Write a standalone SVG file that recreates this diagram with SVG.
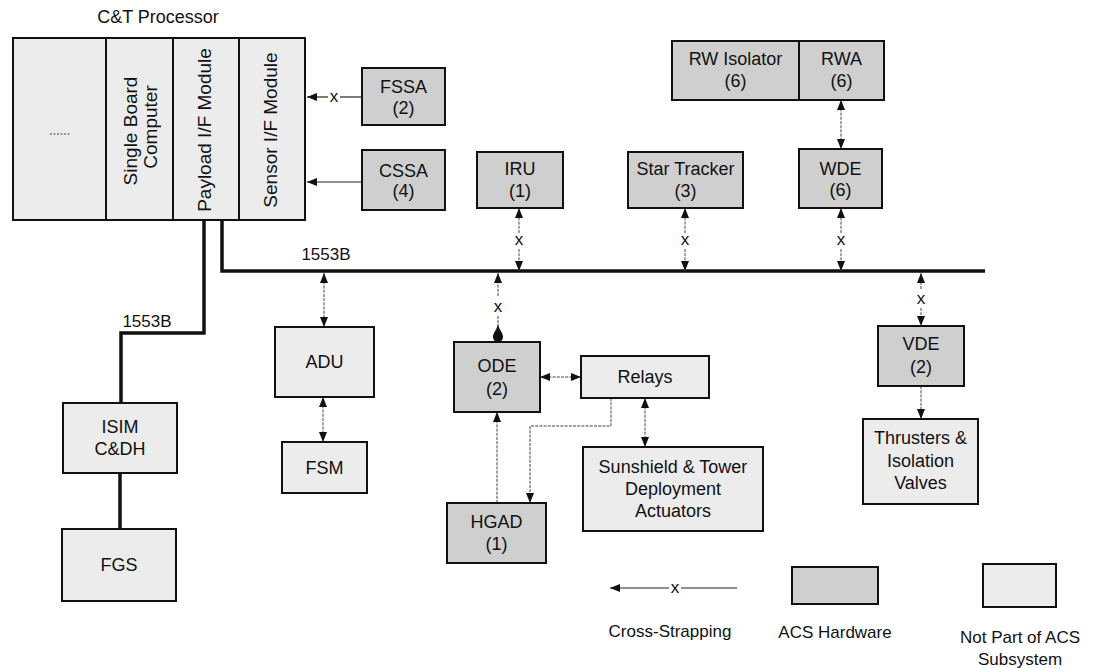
<svg xmlns="http://www.w3.org/2000/svg" width="1093" height="668" viewBox="0 0 1093 668">
<style>
text{font-family:"Liberation Sans",Arial,sans-serif;font-size:18px;fill:#111;text-anchor:middle}
.acs{fill:#cfcfcf;stroke:#111;stroke-width:2}
.ext{fill:#ececec;stroke:#111;stroke-width:2}
.bus{fill:none;stroke:#111;stroke-width:3.5}
.c{fill:none;stroke:#444;stroke-width:1;stroke-dasharray:3 1.2}
.cs{fill:none;stroke:#222;stroke-width:1.2}
.lbl{font-size:17px}
.x{font-size:17px}
.v{font-size:19px}
</style>
<defs>
<marker id="ah" viewBox="0 0 10 8" refX="10" refY="4" markerWidth="10" markerHeight="8" markerUnits="userSpaceOnUse" orient="auto-start-reverse">
<path d="M0,0 L10,4 L0,8 z" fill="#111"/>
</marker>
<marker id="blob" viewBox="0 0 18 10" refX="18" refY="5" markerWidth="18" markerHeight="10" markerUnits="userSpaceOnUse" orient="auto">
<path d="M0,5 C6,4 8,0 13,0 C16,0 18,2.5 18,5 C18,7.5 16,10 13,10 C8,10 6,6 0,5 z" fill="#111"/>
</marker>
</defs>
<rect width="1093" height="668" fill="#fff"/>

<g id="connectors">
<path class="bus" d="M222,220 V271 H985"/>
<path class="bus" d="M204,220 V333 H121 V403"/>
<path class="bus" d="M120,473 V529"/>
<text class="lbl" x="326" y="260">1553B</text>
<text class="lbl" x="147" y="327">1553B</text>
<!-- FSSA -->
<path class="cs" d="M362,97 H340"/>
<text class="x" x="334" y="102">x</text>
<path class="cs" d="M328,97 H307" marker-end="url(#ah)"/>
<!-- CSSA -->
<path class="cs" d="M362,182 H307" marker-end="url(#ah)"/>
<!-- IRU -->
<path class="c" d="M519,233 V208" marker-end="url(#ah)"/>
<text class="x" x="519" y="245">x</text>
<path class="c" d="M519,249 V271" marker-end="url(#ah)"/>
<!-- Star Tracker -->
<path class="c" d="M685,233 V208" marker-end="url(#ah)"/>
<text class="x" x="685" y="245">x</text>
<path class="c" d="M685,249 V271" marker-end="url(#ah)"/>
<!-- WDE -->
<path class="c" d="M841,233 V208" marker-end="url(#ah)"/>
<text class="x" x="841" y="245">x</text>
<path class="c" d="M841,249 V271" marker-end="url(#ah)"/>
<!-- RWA-WDE -->
<path class="c" d="M841,100 V149" marker-start="url(#ah)" marker-end="url(#ah)"/>
<!-- ADU -->
<path class="c" d="M324,273 V327" marker-start="url(#ah)" marker-end="url(#ah)"/>
<path class="c" d="M323,397 V442" marker-start="url(#ah)" marker-end="url(#ah)"/>
<!-- ODE -->
<path class="c" d="M498,296 V273" marker-end="url(#ah)"/>
<text class="x" x="498" y="312">x</text>
<path class="c" d="M498,316 V342" marker-end="url(#blob)"/>
<path class="c" d="M540,377 H581" marker-start="url(#ah)" marker-end="url(#ah)"/>
<path class="c" d="M645,398 V447" marker-start="url(#ah)" marker-end="url(#ah)"/>
<path class="c" d="M611,398 V426 H530 V503" marker-end="url(#ah)"/>
<path class="c" d="M497,503 V412" marker-end="url(#ah)"/>
<!-- VDE -->
<path class="c" d="M921,289 V273" marker-end="url(#ah)"/>
<text class="x" x="921" y="304">x</text>
<path class="c" d="M921,308 V326" marker-end="url(#ah)"/>
<path class="c" d="M921,386 V419" marker-end="url(#ah)"/>
</g>

<g id="processor">
<text x="158" y="23">C&amp;T Processor</text>
<rect class="ext" x="13" y="38" width="292" height="182"/>
<line x1="106" y1="38" x2="106" y2="220" stroke="#111" stroke-width="2"/>
<line x1="173" y1="38" x2="173" y2="220" stroke="#111" stroke-width="2"/>
<line x1="239" y1="38" x2="239" y2="220" stroke="#111" stroke-width="2"/>
<line x1="50" y1="134" x2="70" y2="134" stroke="#444" stroke-width="1" stroke-dasharray="2 1.5"/>
<text class="v" transform="translate(137,131) rotate(-90)">Single Board</text>
<text class="v" transform="translate(157,127) rotate(-90)">Computer</text>
<text class="v" transform="translate(211,130) rotate(-90)">Payload I/F Module</text>
<text class="v" transform="translate(277,130) rotate(-90)">Sensor I/F Module</text>
</g>

<g id="fssa"><rect class="acs" x="362" y="68" width="83" height="57"/><text x="403.5" y="93">FSSA</text><text x="403.5" y="114">(2)</text></g>
<g id="cssa"><rect class="acs" x="362" y="150" width="83" height="60"/><text x="403.5" y="177">CSSA</text><text x="403.5" y="197">(4)</text></g>
<g id="iru"><rect class="acs" x="477" y="152" width="86" height="56"/><text x="520" y="175">IRU</text><text x="520" y="197">(1)</text></g>
<g id="startracker"><rect class="acs" x="628" y="152" width="115" height="56"/><text x="685.5" y="175">Star Tracker</text><text x="685.5" y="197">(3)</text></g>
<g id="rwisolator"><rect class="acs" x="672" y="41" width="127" height="59"/><text x="735.5" y="65">RW Isolator</text><text x="735.5" y="87">(6)</text></g>
<g id="rwa"><rect class="acs" x="799" y="41" width="85" height="59"/><text x="841.5" y="65">RWA</text><text x="841.5" y="87">(6)</text></g>
<g id="wde"><rect class="acs" x="799" y="149" width="83" height="59"/><text x="840.5" y="175">WDE</text><text x="840.5" y="196">(6)</text></g>
<g id="adu"><rect class="ext" x="275" y="327" width="99" height="70"/><text x="324.5" y="368">ADU</text></g>
<g id="fsm"><rect class="ext" x="282" y="442" width="85" height="51"/><text x="324.5" y="474">FSM</text></g>
<g id="ode"><rect class="acs" x="454" y="342" width="86" height="70"/><text x="497" y="372">ODE</text><text x="497" y="395">(2)</text></g>
<g id="relays"><rect class="ext" x="581" y="356" width="128" height="42"/><text x="645" y="383">Relays</text></g>
<g id="sunshield"><rect class="ext" x="583" y="447" width="180" height="84"/><text x="673" y="473">Sunshield &amp; Tower</text><text x="673" y="495">Deployment</text><text x="673" y="517">Actuators</text></g>
<g id="hgad"><rect class="acs" x="447" y="503" width="99" height="60"/><text x="496.5" y="528">HGAD</text><text x="496.5" y="550">(1)</text></g>
<g id="vde"><rect class="acs" x="878" y="326" width="86" height="60"/><text x="921" y="350">VDE</text><text x="921" y="373">(2)</text></g>
<g id="thrusters"><rect class="ext" x="863" y="419" width="115" height="85"/><text x="920.5" y="444">Thrusters &amp;</text><text x="920.5" y="467">Isolation</text><text x="920.5" y="489">Valves</text></g>
<g id="isim"><rect class="ext" x="63" y="403" width="114" height="70"/><text x="120" y="433">ISIM</text><text x="120" y="455">C&amp;DH</text></g>
<g id="fgs"><rect class="ext" x="62" y="529" width="114" height="72"/><text x="119" y="571">FGS</text></g>

<g id="legend">
<path class="cs" d="M737,588 H681"/>
<text class="x" x="675" y="593">x</text>
<path class="cs" d="M669,588 H610" marker-end="url(#ah)"/>
<text class="lbl" x="670" y="637">Cross-Strapping</text>
<rect class="acs" x="792" y="567" width="86" height="37"/>
<text class="lbl" x="835" y="638">ACS Hardware</text>
<rect class="ext" x="983" y="564" width="73" height="43"/>
<text class="lbl" x="1020" y="643">Not Part of ACS</text>
<text class="lbl" x="1020" y="665">Subsystem</text>
</g>
</svg>
